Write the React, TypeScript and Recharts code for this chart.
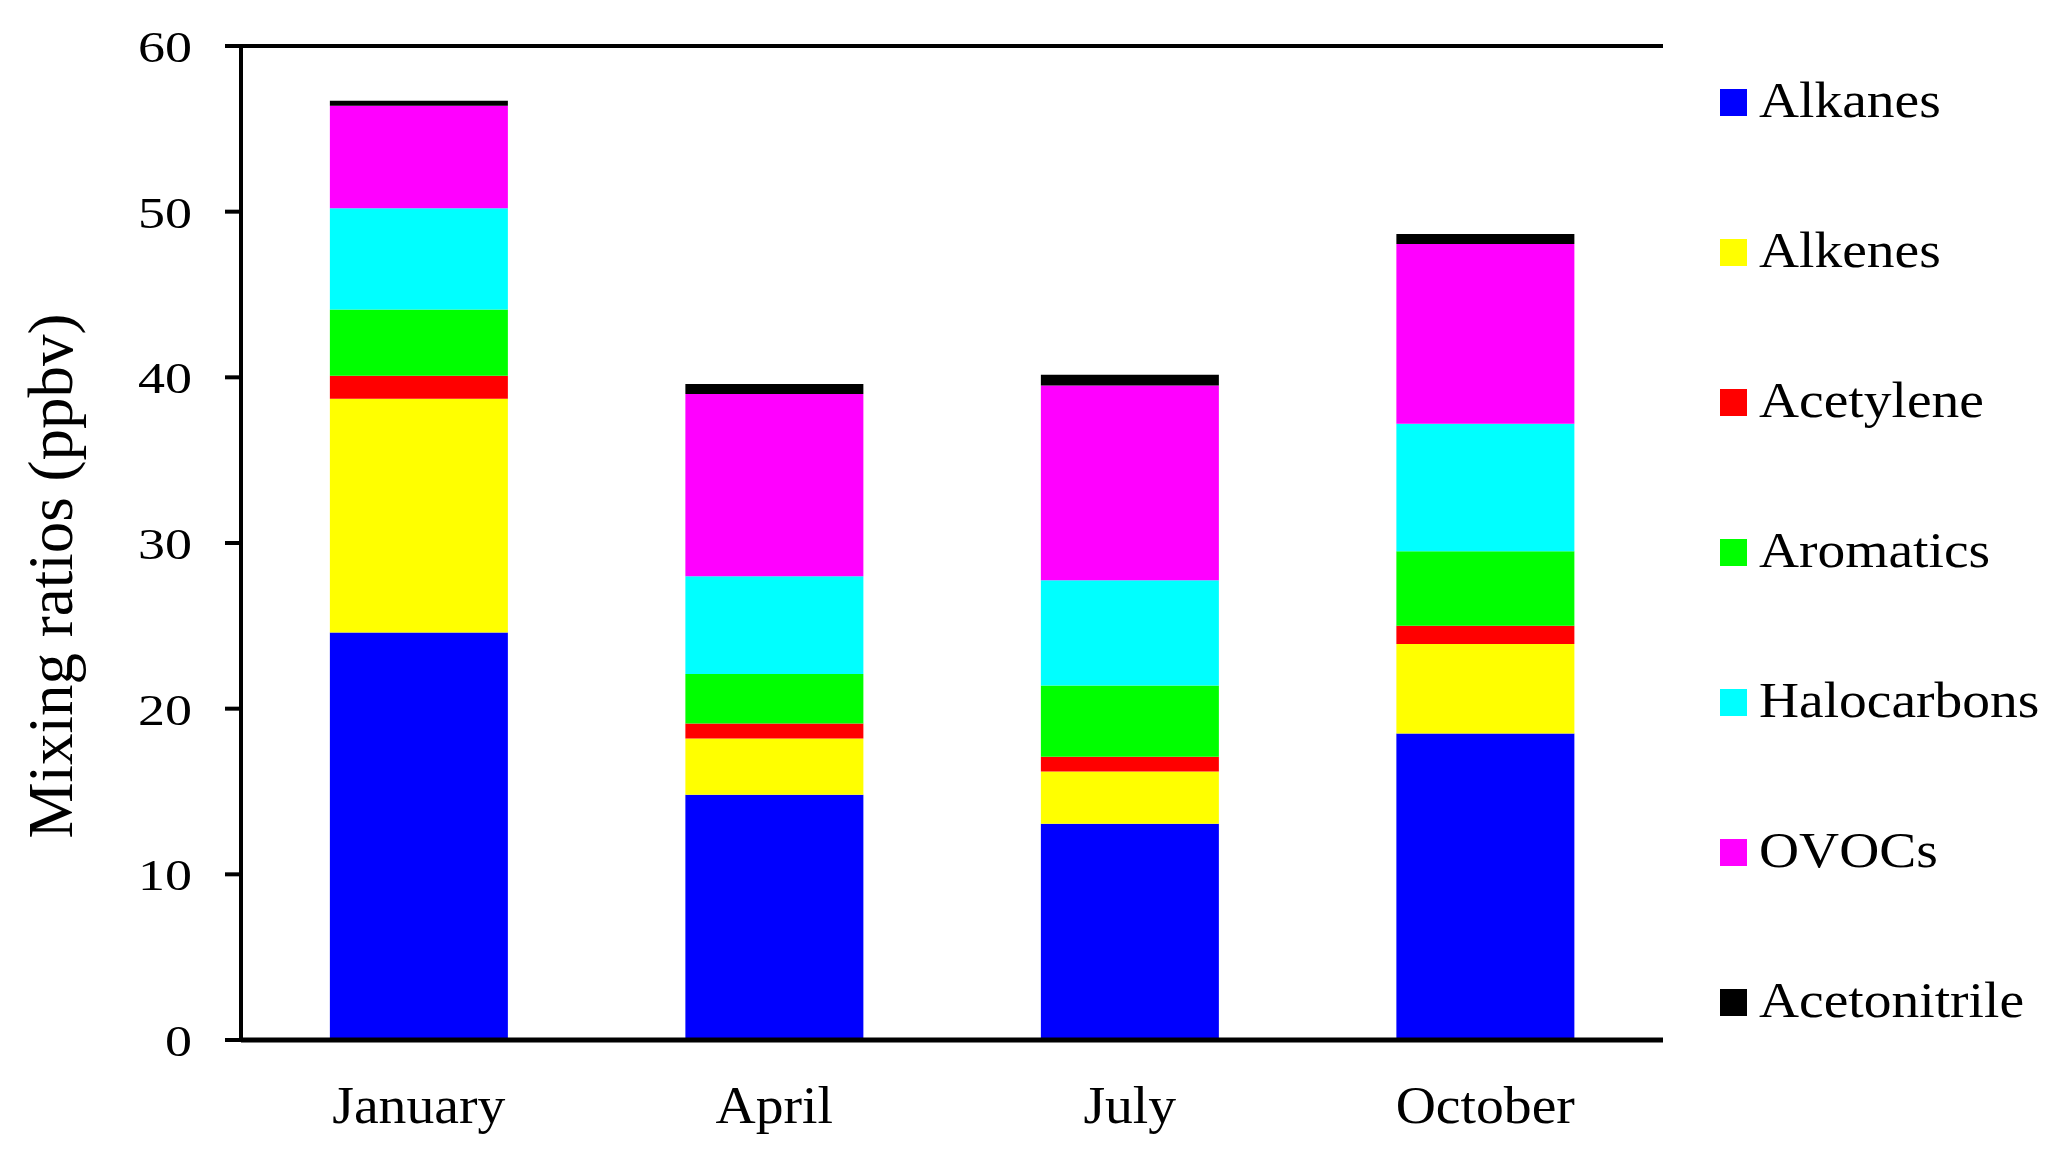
import React from 'react';
import { BarChart, Bar, XAxis, YAxis, Legend, ReferenceLine } from 'recharts';

const months = ['January', 'April', 'July', 'October'];
const alkanes = [24.6, 14.8, 13.05, 18.5];
const alkenes = [14.1, 3.4, 3.15, 5.4];
const acetylene = [1.4, 0.9, 0.9, 1.1];
const aromatics = [4.0, 3.0, 4.3, 4.5];
const halocarbons = [6.1, 5.9, 6.35, 7.7];
const ovocs = [6.2, 11.0, 11.75, 10.85];
const acetonitrile = [0.3, 0.6, 0.65, 0.6];

const seriesNames = ['Alkanes', 'Alkenes', 'Acetylene', 'Aromatics', 'Halocarbons', 'OVOCs', 'Acetonitrile'];
const seriesValues = [alkanes, alkenes, acetylene, aromatics, halocarbons, ovocs, acetonitrile];
const seriesColors = ['#0000FF', '#FFFF00', '#FF0000', '#00FF00', '#00FFFF', '#FF00FF', '#000000'];
const yTicks = [0, 10, 20, 30, 40, 50, 60];

const data = months.map((m, i) => {
  const row: Record<string, any> = { month: m };
  seriesNames.forEach((s, k) => { row[s] = seriesValues[k][i]; });
  return row;
});

const FONT = '"Liberation Serif", "Times New Roman", serif';

const YTick = (props: any) => {
  const { x, y, payload } = props;
  return (
    <text transform={`translate(${x},${y + 16}) scale(1.2,1)`} textAnchor="end" fontFamily={FONT} fontSize={45} fill="#000">
      {payload.value}
    </text>
  );
};

const XTick = (props: any) => {
  const { x, y, payload } = props;
  return (
    <text transform={`translate(${x},${y + 83}) scale(1.05,1)`} textAnchor="middle" fontFamily={FONT} fontSize={53} fill="#000">
      {payload.value}
    </text>
  );
};

const LegendContent = () => (
  <svg width={360} height={960} style={{ display: 'block', overflow: 'visible' }}>
    {seriesNames.map((s, i) => (
      <g key={s}>
        <rect x={0} y={i * 150} width={27} height={27} fill={seriesColors[i]} />
        <text transform={`translate(39,${i * 150 + 28}) scale(1.11,1)`} fontFamily={FONT} fontSize={50} fill="#000">
          {s}
        </text>
      </g>
    ))}
  </svg>
);

const YLabel = () => (
  <text x={72} y={576} transform="rotate(-90,72,576)" textAnchor="middle" fontFamily={FONT} fontSize={63} fill="#000">
    Mixing ratios (ppbv)
  </text>
);

export default function App() {
  return (
    <div style={{ position: 'absolute', left: 0, top: 0, width: 2067, height: 1163, background: '#fff' }}>
      <BarChart width={2067} height={1163} data={data} margin={{ top: 46, right: 404, bottom: 0, left: 0 }} barCategoryGap="25%">
        <XAxis
          dataKey="month"
          height={123}
          tickLine={false}
          tickSize={0}
          tickMargin={0}
          axisLine={{ stroke: '#000', strokeWidth: 5 }}
          tick={<XTick />}
          interval={0}
        />
        <YAxis
          width={241}
          domain={[0, 60]}
          ticks={yTicks}
          interval={0}
          tickSize={16}
          tickMargin={33}
          tickLine={{ stroke: '#000', strokeWidth: 4 }}
          axisLine={{ stroke: '#000', strokeWidth: 4 }}
          tick={<YTick />}
          allowDataOverflow
          label={<YLabel />}
        />
        <YAxis
          yAxisId="r"
          orientation="right"
          width={0}
          domain={[0, 60]}
          tick={false}
          tickLine={false}
          axisLine={{ stroke: '#000', strokeWidth: 3 }}
        />
        <ReferenceLine y={60} stroke="#000" strokeWidth={4} />
        <Legend
          layout="vertical"
          align="center"
          verticalAlign="middle"
          content={<LegendContent />}
          wrapperStyle={{ position: 'absolute', left: 1720, top: 89, width: 360, height: 960 }}
        />
        {seriesNames.map((s, i) => (
          <Bar key={s} dataKey={s} stackId="a" fill={seriesColors[i]} isAnimationActive={false} />
        ))}
      </BarChart>
    </div>
  );
}
